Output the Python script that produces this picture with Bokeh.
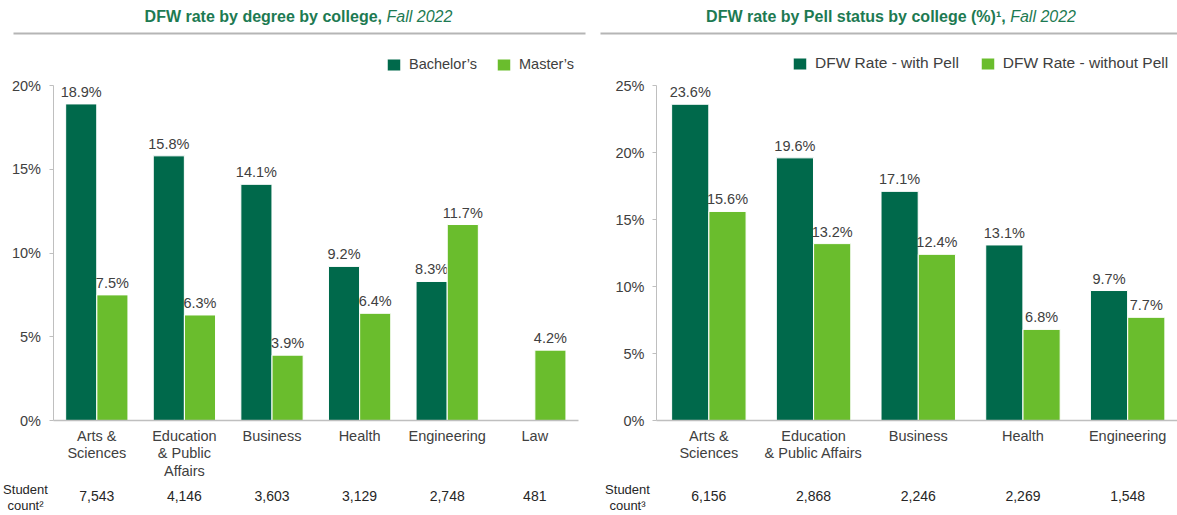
from bokeh.plotting import figure
from bokeh.models import (ColumnDataSource, LinearAxis, Label, PrintfTickFormatter,
                          FixedTicker, Range1d, Legend, LegendItem)
from bokeh.embed import file_html
from bokeh.resources import INLINE
from bokeh.core.properties import value

DARK = "#00694b"
LIGHT = "#6abd2d"
FONT = "Liberation Sans"
TXT = "#404040"
AXIS = "#bfbfbf"
TITLE_C = "#1d7a52"

# ---------------- data ----------------
left_colleges = ["Arts &\nSciences", "Education\n& Public\nAffairs", "Business", "Health", "Engineering", "Law"]
bachelors = [18.9, 15.8, 14.1, 9.2, 8.3, None]
masters = [7.5, 6.3, 3.9, 6.4, 11.7, 4.2]
left_counts = ["7,543", "4,146", "3,603", "3,129", "2,748", "481"]
left_series_names = ["Bachelor\u2019s", "Master\u2019s"]
left_y_ticks = [0, 5, 10, 15, 20]

right_colleges = ["Arts &\nSciences", "Education\n& Public Affairs", "Business", "Health", "Engineering"]
with_pell = [23.6, 19.6, 17.1, 13.1, 9.7]
without_pell = [15.6, 13.2, 12.4, 6.8, 7.7]
right_counts = ["6,156", "2,868", "2,246", "2,269", "1,548"]
right_series_names = ["DFW Rate - with Pell", "DFW Rate - without Pell"]
right_y_ticks = [0, 5, 10, 15, 20, 25]

left_title = ("DFW rate by degree by college,", "Fall 2022")
right_title = ("DFW rate by Pell status by college (%)\u00b9,", "Fall 2022")

# ---------------- layout (page pixels) ----------------
W, H = 1177, 515
PAGE_L, PAGE_T = 0, 0
PAGE_R, PAGE_B = PAGE_L + W, PAGE_T + H
ZERO_Y = 420                        # 0 % baseline (both panels)
L_X0, L_CW, L_PX = 52.5, 87.6, 16.75   # left panel: y-axis x, px per category, px per %
R_X0, R_CW, R_PX = 656.0, 104.7, 13.4  # right panel


def lx(px):
    return (px - L_X0) / L_CW


def ly(py):
    return (ZERO_Y - py) / L_PX


p = figure(width=W, height=H, output_backend="svg", toolbar_location=None,
           x_range=Range1d(lx(PAGE_L), lx(PAGE_R)), y_range=Range1d(ly(PAGE_B), ly(PAGE_T)),
           min_border_left=0, min_border_right=0, min_border_top=0, min_border_bottom=0)
p.extra_x_ranges = {"r": Range1d((PAGE_L - R_X0) / R_CW, (PAGE_R - R_X0) / R_CW)}
p.extra_y_ranges = {"r": Range1d((ZERO_Y - PAGE_B) / R_PX, (ZERO_Y - PAGE_T) / R_PX)}
p.outline_line_color = None
p.xgrid.visible = False
p.ygrid.visible = False


def series_source(vals, off):
    xs, tops, texts = [], [], []
    for i, v in enumerate(vals):
        if v is None:
            continue
        xs.append(i + 0.5 + off)
        tops.append(v)
        texts.append(f"{v:.1f}%")
    return ColumnDataSource(dict(x=xs, top=tops, text=texts))


def style_value_axis(ax, yticks):
    ax.fixed_location = 0
    ax.ticker = FixedTicker(ticks=yticks)
    ax.formatter = PrintfTickFormatter(format="%d%%")
    ax.bounds = (yticks[0], yticks[-1])
    ax.axis_line_color = AXIS
    ax.major_tick_line_color = AXIS
    ax.major_tick_out = 4
    ax.major_tick_in = 0
    ax.minor_tick_line_color = None
    ax.major_label_standoff = 8
    ax.major_label_text_font = FONT
    ax.major_label_text_font_size = "14.5px"
    ax.major_label_text_color = TXT


def style_cat_axis(ax, cats):
    n = len(cats)
    centers = [i + 0.5 for i in range(n)]
    ax.fixed_location = 0
    ax.bounds = (0, n)
    ax.ticker = FixedTicker(ticks=centers)
    ax.major_label_overrides = dict(zip(centers, cats))
    ax.axis_line_color = AXIS
    ax.axis_line_width = 1.5
    ax.major_tick_line_color = None
    ax.major_tick_out = 0
    ax.major_tick_in = 0
    ax.minor_tick_line_color = None
    ax.major_label_standoff = 7
    ax.major_label_text_font = FONT
    ax.major_label_text_font_size = "14.5px"
    ax.major_label_text_color = TXT
    ax.major_label_text_line_height = 1.12


def count_axis(counts, rname):
    centers = [i + 0.5 for i in range(len(counts))]
    kw = dict(x_range_name=rname, y_range_name=rname) if rname else {}
    ca = LinearAxis(fixed_location=0, ticker=FixedTicker(ticks=centers),
                    major_label_overrides=dict(zip(centers, counts)), **kw)
    ca.axis_line_color = None
    ca.major_tick_line_color = None
    ca.major_tick_out = 0
    ca.major_tick_in = 0
    ca.minor_tick_line_color = None
    ca.major_label_standoff = 70
    ca.major_label_text_font = FONT
    ca.major_label_text_font_size = "14px"
    ca.major_label_text_color = "#262626"
    p.add_layout(ca, "below")


def bars(s1, s2, names, rname, legend_left, legend_font, legend_spacing):
    kw = dict(x_range_name=rname, y_range_name=rname) if rname else {}
    items = []
    for vals, off, col, name in [(s1, -0.178, DARK, names[0]), (s2, 0.178, LIGHT, names[1])]:
        src = series_source(vals, off)
        r = p.vbar(x="x", top="top", width=0.355, source=src,
                   fill_color=col, line_color="white", line_width=1, **kw)
        p.text(x="x", y="top", text="text", source=src,
               text_align="center", text_baseline="bottom", y_offset=-4,
               text_font=value(FONT), text_font_size="14.5px", text_color=TXT, **kw)
        items.append(LegendItem(label=name, renderers=[r]))
    lg = Legend(items=items, orientation="horizontal",
                location=(legend_left - PAGE_L, PAGE_B - 72))
    lg.border_line_color = None
    lg.background_fill_alpha = 0
    lg.margin = 0
    lg.padding = 2
    lg.spacing = legend_spacing
    lg.glyph_width = 17
    lg.glyph_height = 15
    lg.label_standoff = 7
    lg.label_text_font = FONT
    lg.label_text_font_size = legend_font
    lg.label_text_color = TXT
    p.add_layout(lg, "center")


# ---- left panel ----
bars(bachelors, masters, left_series_names, None, 385, "14.5px", 18)
style_value_axis(p.yaxis[0], left_y_ticks)
style_cat_axis(p.xaxis[0], left_colleges)
count_axis(left_counts, None)

# ---- right panel ----
bars(with_pell, without_pell, right_series_names, "r", 791, "15.5px", 20)
ry = LinearAxis(x_range_name="r", y_range_name="r")
style_value_axis(ry, right_y_ticks)
p.add_layout(ry, "left")
rx = LinearAxis(x_range_name="r", y_range_name="r")
style_cat_axis(rx, right_colleges)
p.add_layout(rx, "below")
count_axis(right_counts, "r")

# ---- student count captions ----
for cx, txt in [(25, "Student\ncount\u00b2"), (627, "Student\ncount\u00b3")]:
    p.add_layout(Label(x=lx(cx), y=ly(497), text=txt, text_align="center",
                       text_baseline="middle", text_font=FONT, text_font_size="13px",
                       text_color="#262626", text_line_height=1.1))

# ---- titles (bold part + italic part) and divider rules ----
for split, parts in [(381.5, left_title), (1005.2, right_title)]:
    p.add_layout(Label(x=lx(split), y=ly(16), text=parts[0], text_align="right",
                       text_baseline="middle", text_font=FONT, text_font_size="16px",
                       text_font_style="bold", text_color=TITLE_C))
    p.add_layout(Label(x=lx(split + 4.5), y=ly(16), text=parts[1], text_align="left",
                       text_baseline="middle", text_font=FONT, text_font_size="16px",
                       text_font_style="italic", text_color=TITLE_C))

p.segment(x0=[lx(13), lx(600)], y0=[ly(33), ly(33)], x1=[lx(585), lx(1177)], y1=[ly(33), ly(33)],
          line_color="#b5b5b5", line_width=2)

open("out.html", "w").write(file_html(p, INLINE))
